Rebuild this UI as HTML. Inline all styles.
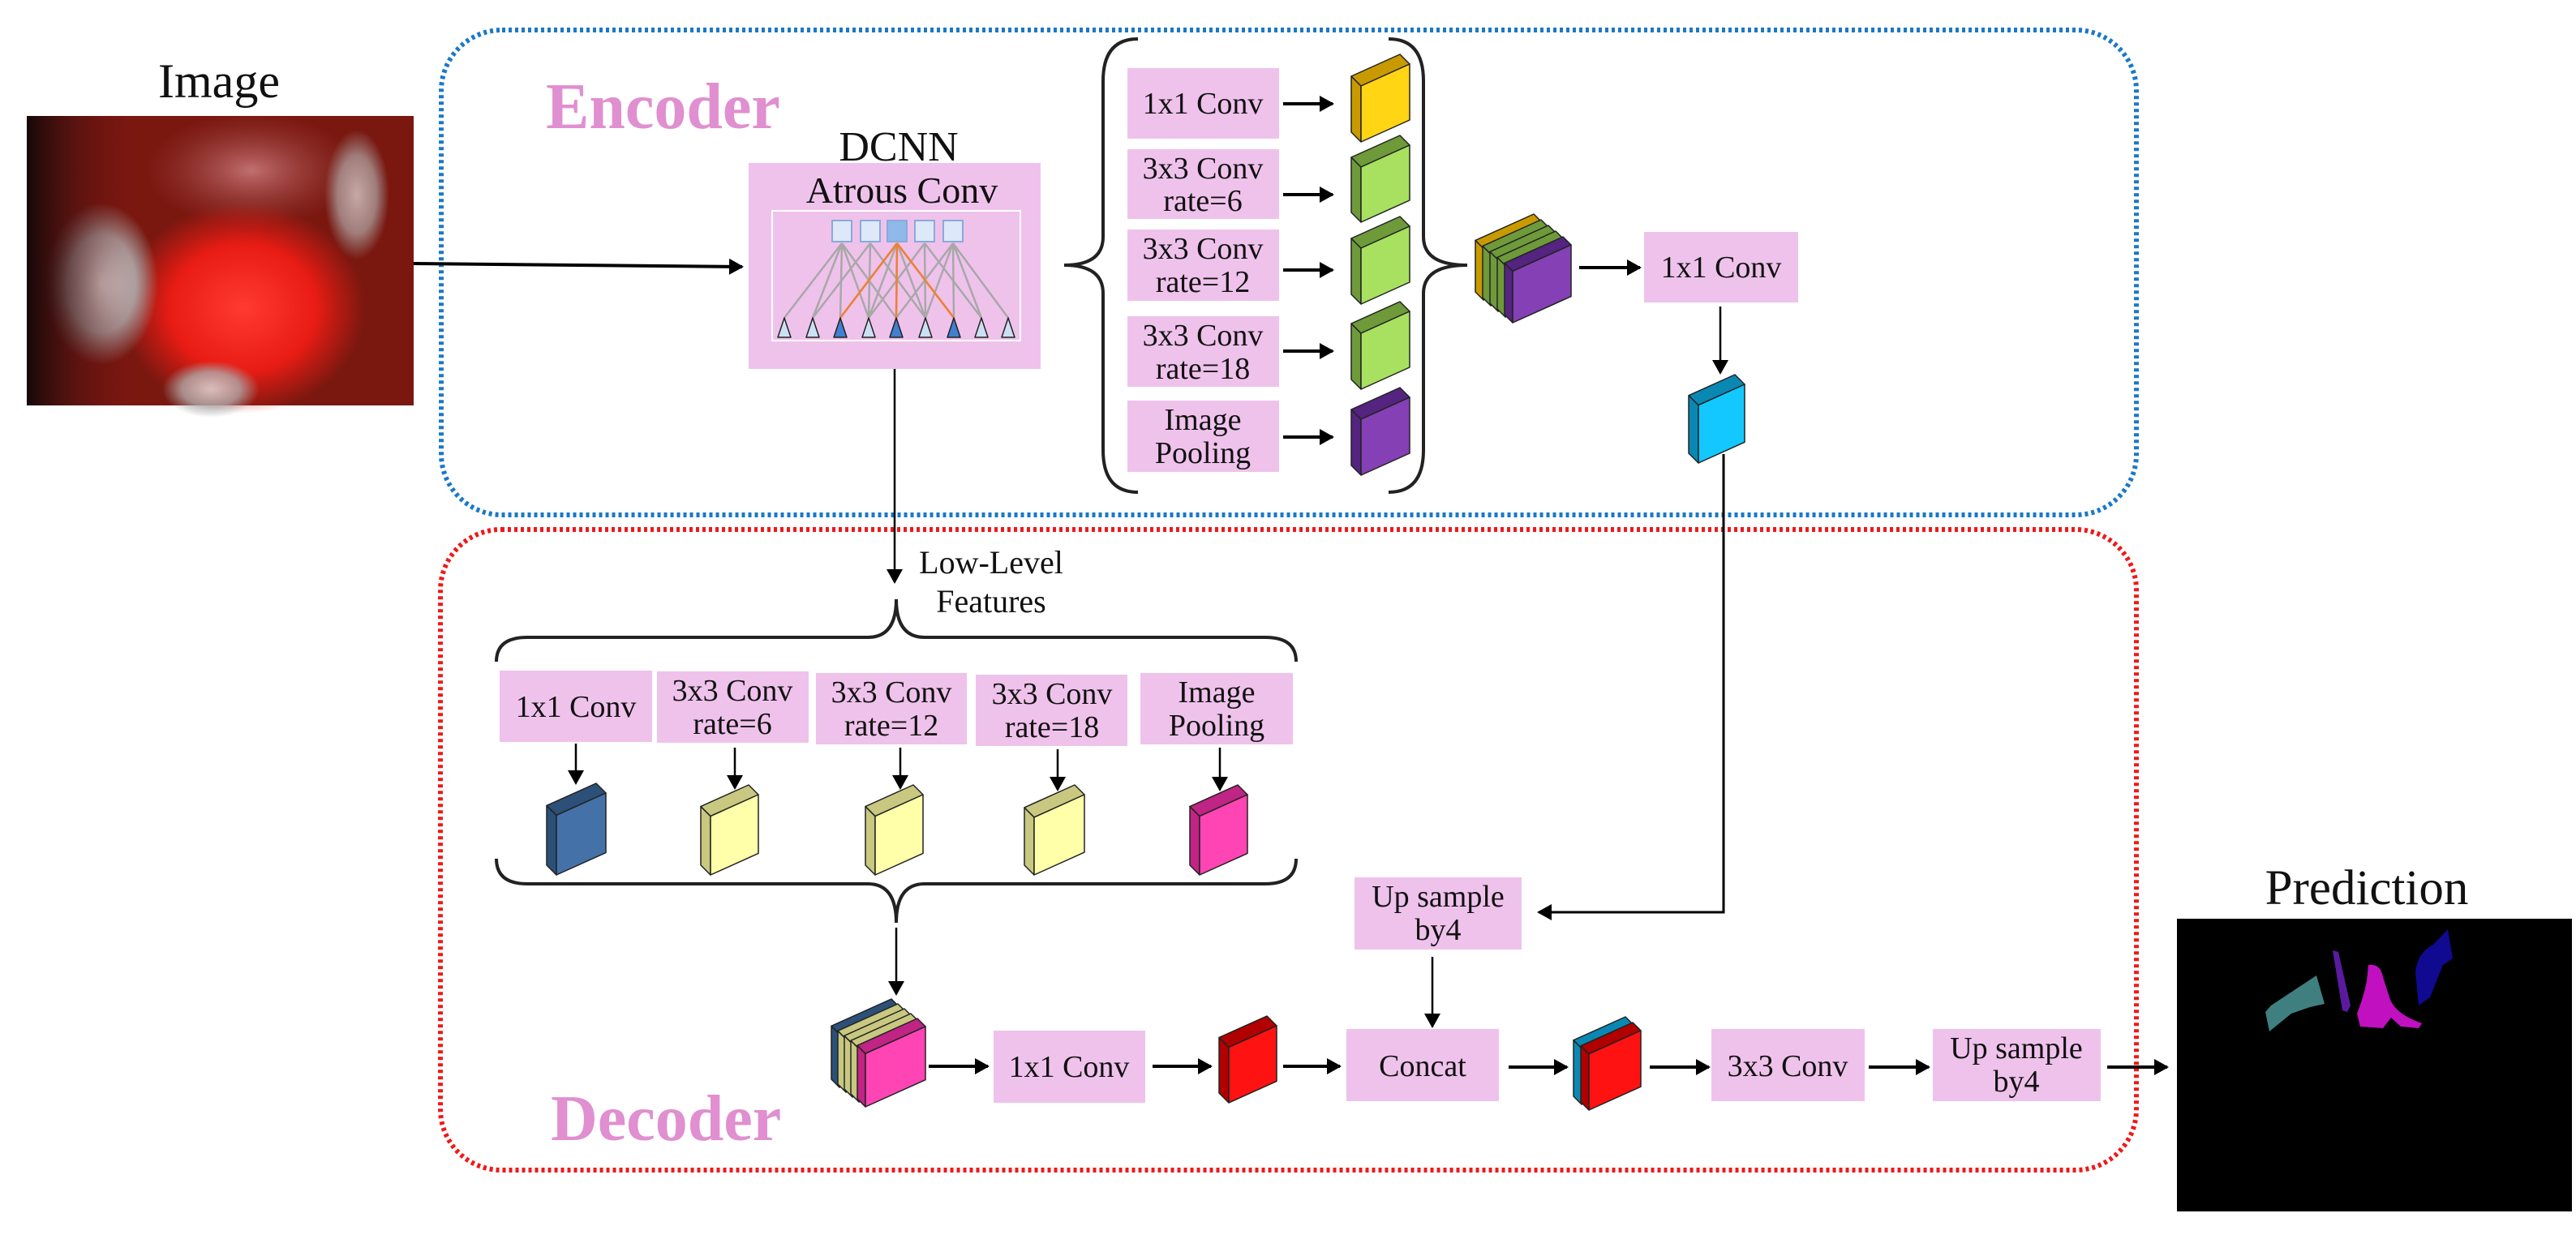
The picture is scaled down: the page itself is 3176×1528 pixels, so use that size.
<!DOCTYPE html>
<html><head><meta charset="utf-8"><style>
html,body{margin:0;padding:0;background:#fff;}
svg{display:block;}
text{font-family:"Liberation Serif",serif;fill:#111;}
.bx{fill:#efc2ec;}
.t38{font-size:38px;text-anchor:middle;}
</style></head><body>
<svg id="s" width="3176" height="1528" viewBox="0 0 3176 1528" xmlns="http://www.w3.org/2000/svg">
<defs>
<marker id="ahb" markerWidth="20" markerHeight="20" refX="16" refY="10" orient="auto" markerUnits="userSpaceOnUse"><path d="M0,0 L18,10 L0,20 z" fill="#000"/></marker>
<radialGradient id="red" cx="0.5" cy="0.5" r="0.5"><stop offset="0" stop-color="#ff3a30"/><stop offset="0.6" stop-color="#e81c14"/><stop offset="1" stop-color="#e01c14" stop-opacity="0"/></radialGradient>
<radialGradient id="gry" cx="0.5" cy="0.5" r="0.5"><stop offset="0" stop-color="#e6e6e6"/><stop offset="0.6" stop-color="#b0a8a8"/><stop offset="1" stop-color="#a0a0a0" stop-opacity="0"/></radialGradient>
<radialGradient id="pk" cx="0.5" cy="0.5" r="0.5"><stop offset="0" stop-color="#c07070"/><stop offset="1" stop-color="#a04040" stop-opacity="0"/></radialGradient>
<linearGradient id="edge" x1="0" x2="1"><stop offset="0" stop-color="#150808"/><stop offset="0.12" stop-color="#401010" stop-opacity="0.6"/><stop offset="0.3" stop-color="#801010" stop-opacity="0"/></linearGradient>
</defs>

<text x="270" y="120" font-size="60" text-anchor="middle">Image</text>
<rect x="33" y="143" width="477" height="357" fill="#7a1810"/>
<ellipse cx="310" cy="210" rx="130" ry="70" fill="url(#pk)"/>
<ellipse cx="300" cy="380" rx="150" ry="130" fill="url(#red)"/>
<ellipse cx="125" cy="350" rx="70" ry="100" fill="url(#gry)"/>
<ellipse cx="440" cy="240" rx="40" ry="80" fill="url(#gry)" opacity="0.7"/>
<ellipse cx="260" cy="480" rx="60" ry="35" fill="url(#gry)" opacity="0.8"/>
<rect x="33" y="143" width="477" height="357" fill="url(#edge)"/>

<rect x="544" y="37" width="2090" height="598" rx="75" fill="none" stroke="#1a78c8" stroke-width="6" stroke-dasharray="4 4"/>
<rect x="543" y="653" width="2091" height="790" rx="75" fill="none" stroke="#f01818" stroke-width="6" stroke-dasharray="4 4"/>

<text x="673" y="158" font-size="80" font-weight="bold" style="fill:#e08fd0">Encoder</text>
<text x="679" y="1406" font-size="80" font-weight="bold" style="fill:#e08fd0">Decoder</text>

<text x="1108" y="198" font-size="52" text-anchor="middle">DCNN</text>
<rect class="bx" x="923" y="201" width="360" height="254"/>
<text x="1112" y="250" font-size="46" text-anchor="middle">Atrous Conv</text>
<rect x="952" y="260" width="306" height="160" fill="none" stroke="#fff" stroke-width="2"/>
<g id="atr"></g>

<line x1="510" y1="325" x2="915" y2="329" stroke="#000" stroke-width="4" marker-end="url(#ahb)"/>

<path d="M1403,48 Q1360,48 1360,100 L1360,292 Q1360,327 1312,327 Q1360,327 1360,362 L1360,555 Q1360,607 1403,607" fill="none" stroke="#222" stroke-width="4"/>
<path d="M1712,48 Q1755,48 1755,100 L1755,292 Q1755,327 1809,327 Q1755,327 1755,362 L1755,555 Q1755,607 1712,607" fill="none" stroke="#222" stroke-width="4"/>

<rect class="bx" x="1390" y="84" width="187" height="87"/>
<text class="t38" x="1483" y="140">1x1 Conv</text>
<rect class="bx" x="1390" y="184" width="187" height="86"/>
<text class="t38" x="1483" y="220">3x3 Conv</text><text class="t38" x="1483" y="260">rate=6</text>
<rect class="bx" x="1390" y="283" width="187" height="88"/>
<text class="t38" x="1483" y="319">3x3 Conv</text><text class="t38" x="1483" y="360">rate=12</text>
<rect class="bx" x="1390" y="390" width="187" height="87"/>
<text class="t38" x="1483" y="426">3x3 Conv</text><text class="t38" x="1483" y="467">rate=18</text>
<rect class="bx" x="1390" y="494" width="187" height="88"/>
<text class="t38" x="1483" y="530">Image</text><text class="t38" x="1483" y="571">Pooling</text>

<g stroke="#000" stroke-width="4">
<line x1="1582" y1="128" x2="1643" y2="128" marker-end="url(#ahb)"/>
<line x1="1582" y1="240" x2="1643" y2="240" marker-end="url(#ahb)"/>
<line x1="1582" y1="333" x2="1643" y2="333" marker-end="url(#ahb)"/>
<line x1="1582" y1="433" x2="1643" y2="433" marker-end="url(#ahb)"/>
<line x1="1582" y1="539" x2="1643" y2="539" marker-end="url(#ahb)"/>
<line x1="1947" y1="330" x2="2022" y2="330" marker-end="url(#ahb)"/>
</g>

<rect class="bx" x="2027" y="286" width="190" height="87"/>
<text class="t38" x="2122" y="342">1x1 Conv</text>
<line x1="2121" y1="378" x2="2121" y2="460" stroke="#000" stroke-width="2.5" marker-end="url(#ahb)"/>
<polyline points="2125,560 2125,1125 1897,1125" fill="none" stroke="#000" stroke-width="3" marker-end="url(#ahb)"/>

<line x1="1103" y1="455" x2="1103" y2="718" stroke="#000" stroke-width="2.5" marker-end="url(#ahb)"/>
<text x="1222" y="707" font-size="40" text-anchor="middle">Low-Level</text>
<text x="1222" y="755" font-size="40" text-anchor="middle">Features</text>
<path d="M612,816 Q612,786 650,786 L1070,786 Q1105,786 1105,739 Q1105,786 1140,786 L1560,786 Q1598,786 1598,816" fill="none" stroke="#222" stroke-width="4"/>
<path d="M612,1059 Q612,1090 650,1090 L1070,1090 Q1105,1090 1105,1138 Q1105,1090 1140,1090 L1560,1090 Q1598,1090 1598,1059" fill="none" stroke="#222" stroke-width="4"/>

<rect class="bx" x="616" y="827" width="188" height="88"/>
<text class="t38" x="710" y="884">1x1 Conv</text>
<rect class="bx" x="810" y="828" width="187" height="88"/>
<text class="t38" x="903" y="864">3x3 Conv</text><text class="t38" x="903" y="905">rate=6</text>
<rect class="bx" x="1006" y="830" width="186" height="88"/>
<text class="t38" x="1099" y="866">3x3 Conv</text><text class="t38" x="1099" y="907">rate=12</text>
<rect class="bx" x="1203" y="832" width="187" height="88"/>
<text class="t38" x="1297" y="868">3x3 Conv</text><text class="t38" x="1297" y="909">rate=18</text>
<rect class="bx" x="1406" y="830" width="188" height="88"/>
<text class="t38" x="1500" y="866">Image</text><text class="t38" x="1500" y="907">Pooling</text>

<g stroke="#000" stroke-width="2.5">
<line x1="710" y1="917" x2="710" y2="966" marker-end="url(#ahb)"/>
<line x1="906" y1="922" x2="906" y2="972" marker-end="url(#ahb)"/>
<line x1="1110" y1="922" x2="1110" y2="972" marker-end="url(#ahb)"/>
<line x1="1304" y1="924" x2="1304" y2="974" marker-end="url(#ahb)"/>
<line x1="1504" y1="922" x2="1504" y2="974" marker-end="url(#ahb)"/>
<line x1="1105" y1="1144" x2="1105" y2="1226" marker-end="url(#ahb)"/>
<line x1="1766" y1="1180" x2="1766" y2="1266" marker-end="url(#ahb)"/>
</g>
<g stroke="#000" stroke-width="4">
<line x1="1145" y1="1315" x2="1218" y2="1315" marker-end="url(#ahb)"/>
<line x1="1421" y1="1315" x2="1493" y2="1315" marker-end="url(#ahb)"/>
<line x1="1582" y1="1315" x2="1652" y2="1315" marker-end="url(#ahb)"/>
<line x1="1860" y1="1316" x2="1932" y2="1316" marker-end="url(#ahb)"/>
<line x1="2034" y1="1316" x2="2107" y2="1316" marker-end="url(#ahb)"/>
<line x1="2304" y1="1316" x2="2378" y2="1316" marker-end="url(#ahb)"/>
<line x1="2598" y1="1316" x2="2672" y2="1316" marker-end="url(#ahb)"/>
</g>

<rect class="bx" x="1225" y="1271" width="187" height="89"/>
<text class="t38" x="1318" y="1328">1x1 Conv</text>
<rect class="bx" x="1660" y="1269" width="188" height="89"/>
<text class="t38" x="1754" y="1327">Concat</text>
<rect class="bx" x="1670" y="1082" width="206" height="89"/>
<text class="t38" x="1773" y="1118">Up sample</text><text class="t38" x="1773" y="1159">by4</text>
<rect class="bx" x="2110" y="1269" width="189" height="89"/>
<text class="t38" x="2204" y="1327">3x3 Conv</text>
<rect class="bx" x="2383" y="1269" width="207" height="89"/>
<text class="t38" x="2486" y="1305">Up sample</text><text class="t38" x="2486" y="1346">by4</text>

<text x="2918" y="1115" font-size="61" text-anchor="middle">Prediction</text>
<rect x="2684" y="1133" width="487" height="361" fill="#000"/>
<polygon points="2856,1203 2866,1238 2848,1242 2825,1250 2798,1272 2793,1248 2800,1240" fill="#3f7f7f"/>
<polygon points="2876,1172 2883,1174 2898,1240 2894,1248 2888,1246" fill="#5a1aa0"/>
<path d="M2920,1190 Q2935,1188 2938,1205 L2946,1230 Q2952,1250 2986,1262 L2982,1268 L2960,1266 L2948,1255 L2938,1268 L2910,1266 L2906,1250 Q2914,1230 2918,1210 z" fill="#c010c0"/>
<path d="M3018,1146 L3024,1182 L3012,1190 L2996,1230 L2982,1240 L2978,1200 Q2980,1175 3000,1165 z" fill="#100a90"/>
<g id="cubes"></g>
</svg>
<script>
var NS="http://www.w3.org/2000/svg";
var cg=document.getElementById("cubes");
function poly(g,pts,fill){var p=document.createElementNS(NS,"polygon");p.setAttribute("points",pts.map(function(a){return a[0]+","+a[1]}).join(" "));p.setAttribute("fill",fill);p.setAttribute("stroke","#222");p.setAttribute("stroke-width","1.5");p.setAttribute("stroke-linejoin","round");g.appendChild(p);}
function slab(x0,y0,x1,y1,t,f,d){var s=(x1-x0-t)*0.45;var FL=x0+t,FR=x1;
poly(cg,[[x0,y0+s],[FL,y0+t+s],[FL,y1],[x0,y1-t]],d);
poly(cg,[[x0,y0+s],[x1-t,y0],[FR,y0+t],[FL,y0+t+s]],d);
poly(cg,[[FL,y0+t+s],[FR,y0+t],[FR,y1-s],[FL,y1]],f);}
var C={y:["#ffd514","#c99a00"],g:["#a8e060","#6e9a3a"],p:["#8440b4","#542480"],c:["#12c8ff","#0a88b4"],b:["#4472a8","#2c5078"],l:["#ffffaa","#c8c880"],k:["#ff44b4","#c02484"],r:["#ff1212","#b00000"]};
function S(x0,y0,x1,y1,c,t){slab(x0,y0,x1,y1,t||12,C[c][0],C[c][1]);}
S(1666,67,1738,175,"y");S(1666,167,1738,274,"g");S(1666,267,1738,375,"g");S(1666,372,1738,480,"g");S(1666,478,1738,586,"p");
var st=["y","g","g","g","p"];for(var i=0;i<5;i++){S(1819+9*i,264+7*i,1901+9*i,370+7*i,st[i],10);}
S(2082,462,2151,571,"c");
S(674,966,747,1079,"b");S(864,968,935,1079,"l");S(1067,968,1138,1079,"l");S(1263,968,1337,1079,"l");S(1467,968,1538,1079,"k");
var st2=["b","l","l","l","k"];for(var i=0;i<5;i++){S(1025+8*i,1232+6*i,1109+8*i,1341+6*i,st2[i],10);}
S(1503,1253,1574,1360,"r");
S(1940,1254,2014,1362,"c",10);S(1949,1261,2023,1369,"r",10);
var ag=document.getElementById("atr");
var sq=[1026,1061,1094,1128,1163],tr=[967,1002,1036,1071,1105,1141,1176,1210,1243];
function ln(x1,y1,x2,y2,c){var l=document.createElementNS(NS,"line");l.setAttribute("x1",x1);l.setAttribute("y1",y1);l.setAttribute("x2",x2);l.setAttribute("y2",y2);l.setAttribute("stroke",c);l.setAttribute("stroke-width","2.5");ag.appendChild(l);}
for(var j=0;j<5;j++){for(var k=0;k<9;k++){if(Math.abs(k-(j+2))<=2&&(k-(j+2))%2==0||Math.abs(k-(j+2))==1&&j%2==0){ln(tr[k],392,sq[j]+12,300,"#a8a8a8");}}}
ln(1036,392,1106,300,"#f08030");ln(1105,392,1106,300,"#f08030");ln(1176,392,1106,300,"#f08030");
for(var j=0;j<5;j++){var r=document.createElementNS(NS,"rect");r.setAttribute("x",sq[j]);r.setAttribute("y",272);r.setAttribute("width",24);r.setAttribute("height",26);r.setAttribute("fill",j==2?"#90b8e8":"#dde8f8");r.setAttribute("stroke","#8aaad8");r.setAttribute("stroke-width","2");ag.appendChild(r);}
for(var k=0;k<9;k++){var dk=(k==2||k==4||k==6);poly(ag,[[tr[k]-8,416],[tr[k]+8,416],[tr[k],392]],dk?"#4080d0":"#cce0f4");}
</script>
</body></html>
